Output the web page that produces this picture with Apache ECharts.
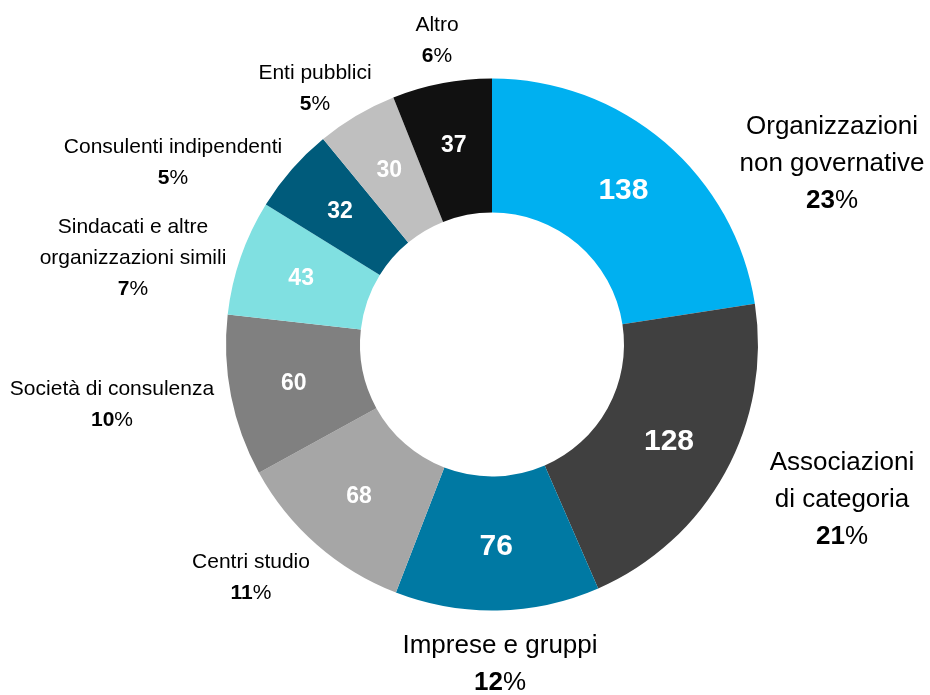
<!DOCTYPE html>
<html>
<head>
<meta charset="utf-8">
<script src="https://cdn.jsdelivr.net/npm/echarts@6/dist/echarts.min.js"></script>
<style>
  html, body { margin: 0; padding: 0; background: #fff; }
  #chart { width: 930px; height: 695px; }
</style>
</head>
<body>
<div id="chart"></div>
<script>
// categorie e valori (numero di soggetti)
const categories = [
  "Organizzazioni\nnon governative",
  "Associazioni\ndi categoria",
  "Imprese e gruppi",
  "Centri studio",
  "Società di consulenza",
  "Sindacati e altre\norganizzazioni simili",
  "Consulenti indipendenti",
  "Enti pubblici",
  "Altro",
];
const values = [138, 128, 76, 68, 60, 43, 32, 30, 37];

const colors = ["#00B0F0", "#404040", "#0079A3", "#A6A6A6", "#808080", "#80E0E1", "#005B7B", "#BFBFBF", "#111111"];
// centri delle etichette esterne (px)
const labelPos = [
  [832, 164], [842, 500], [500, 664], [251, 578], [112, 405],
  [133, 258], [173, 163], [315, 89], [437, 41],
];

const FONT = '"Liberation Sans", Arial, sans-serif';
const total = values.reduce((a, b) => a + b, 0);
const data = values.map((v, i) => ({ name: categories[i], value: v, itemStyle: { color: colors[i] } }));

const chart = echarts.init(document.getElementById("chart"));
chart.setOption({
  backgroundColor: "#fff",
  animation: false,
  series: [
    {
      type: "pie",
      center: [492, 344.5],
      radius: [132, 266],
      startAngle: 90,
      silent: true,
      data,
      labelLine: { show: false },
      label: {
        show: true,
        position: "outside",
        overflow: "none",
        fontFamily: FONT,
        color: "#000",
        formatter: (p) => {
          const big = p.dataIndex < 3;
          const pct = Math.round((p.value / total) * 100);
          const lines = p.name.split("\n").map((l) => `{${big ? "bt" : "st"}|${l}}`);
          return lines.join("\n") + `\n{${big ? "bn" : "sn"}|${pct}}{${big ? "bt" : "st"}|%}`;
        },
        rich: {
          bt: { fontFamily: FONT, fontSize: 26, lineHeight: 37, color: "#000" },
          bn: { fontFamily: FONT, fontSize: 26, lineHeight: 37, fontWeight: "bold", color: "#000" },
          st: { fontFamily: FONT, fontSize: 21, lineHeight: 31, color: "#000" },
          sn: { fontFamily: FONT, fontSize: 21, lineHeight: 31, fontWeight: "bold", color: "#000" },
        },
      },
      labelLayout: (p) => ({
        x: labelPos[p.dataIndex][0],
        y: labelPos[p.dataIndex][1],
        align: "center",
        verticalAlign: "middle",
      }),
    },
    {
      type: "pie",
      center: [492, 344.5],
      radius: [132, 266],
      startAngle: 90,
      silent: true,
      data: values.map((v, i) => ({ name: categories[i], value: v })),
      itemStyle: { color: "rgba(0,0,0,0)" },
      labelLine: { show: false },
      label: {
        show: true,
        position: "inside",
        fontFamily: FONT,
        fontWeight: "bold",
        color: "#fff",
        formatter: (p) => `{${p.dataIndex < 3 ? "b" : "s"}|${p.value}}`,
        rich: {
          b: { fontFamily: FONT, fontWeight: "bold", fontSize: 30, color: "#fff" },
          s: { fontFamily: FONT, fontWeight: "bold", fontSize: 23, color: "#fff" },
        },
      },
    },
  ],
});
</script>
</body>
</html>
